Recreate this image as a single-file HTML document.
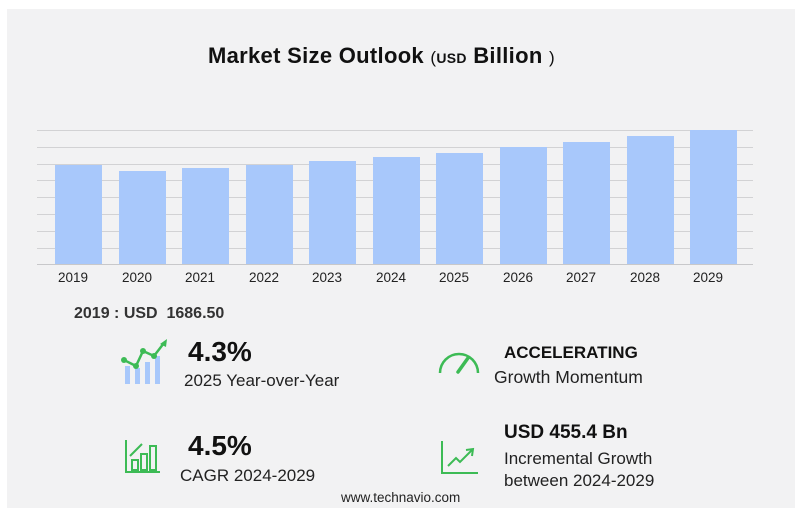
<!DOCTYPE html>
<html><head><style>
body{margin:0;width:804px;height:520px;background:#fff;font-family:"Liberation Sans",sans-serif;position:relative;overflow:hidden}
.p{position:absolute;left:7px;top:9px;width:788px;height:499px;background:#f2f2f3}
.t{position:absolute;white-space:nowrap;color:#111}
</style></head><body>
<div class="p"></div>
<div class="t" style="left:208px;top:43px;font-size:22px;font-weight:bold;letter-spacing:0.3px">Market Size Outlook <span style="font-weight:normal;font-size:17px">(</span><span style="font-size:14px">USD</span> Billion <span style="font-weight:normal;font-size:17px">)</span></div>
<svg style="position:absolute;left:0;top:0" width="804" height="300">
<g stroke="#d2d2d4" stroke-width="1">
<line x1="37" x2="753" y1="130.5" y2="130.5"/><line x1="37" x2="753" y1="147.5" y2="147.5"/><line x1="37" x2="753" y1="164.5" y2="164.5"/><line x1="37" x2="753" y1="180.5" y2="180.5"/><line x1="37" x2="753" y1="197.5" y2="197.5"/><line x1="37" x2="753" y1="214.5" y2="214.5"/><line x1="37" x2="753" y1="231.5" y2="231.5"/><line x1="37" x2="753" y1="248.5" y2="248.5"/>
</g>
<g fill="#a8c8fb">
<rect x="55" y="165" width="47" height="99"/><rect x="119" y="171" width="47" height="93"/><rect x="182" y="168" width="47" height="96"/><rect x="246" y="165" width="47" height="99"/><rect x="309" y="161" width="47" height="103"/><rect x="373" y="157" width="47" height="107"/><rect x="436" y="153" width="47" height="111"/><rect x="500" y="147" width="47" height="117"/><rect x="563" y="142" width="47" height="122"/><rect x="627" y="136" width="47" height="128"/><rect x="690" y="130" width="47" height="134"/>
</g>
<line x1="37" x2="753" y1="264.5" y2="264.5" stroke="#c8c8ca"/>
<g font-size="13.5" fill="#222" text-anchor="middle" font-family="Liberation Sans">
<text x="73" y="282">2019</text><text x="137" y="282">2020</text><text x="200" y="282">2021</text><text x="264" y="282">2022</text><text x="327" y="282">2023</text><text x="391" y="282">2024</text><text x="454" y="282">2025</text><text x="518" y="282">2026</text><text x="581" y="282">2027</text><text x="645" y="282">2028</text><text x="708" y="282">2029</text>
</g>
</svg>
<div class="t" style="left:74px;top:305px;font-size:16px;font-weight:bold;color:#333">2019 : USD&nbsp; 1686.50</div>
<svg style="position:absolute;left:120px;top:338px" width="52" height="50">
<g fill="#a8c8fb"><rect x="5" y="28" width="5" height="18"/><rect x="15" y="30" width="5" height="16"/><rect x="25" y="24" width="5" height="22"/><rect x="35" y="18" width="5" height="28"/></g>
<polyline points="4,22 16,28 23,13 34,18 44,5" fill="none" stroke="#3dbb55" stroke-width="2.5"/>
<g fill="#3dbb55"><circle cx="4" cy="22" r="3"/><circle cx="16" cy="28" r="3"/><circle cx="23" cy="13" r="3"/><circle cx="34" cy="18" r="3"/><path d="M40,6 L47,1 L46,9Z"/></g>
</svg>
<div class="t" style="left:188px;top:336px;font-size:28px;font-weight:bold">4.3%</div>
<div class="t" style="left:184px;top:371px;font-size:17px;color:#222">2025 Year-over-Year</div>
<svg style="position:absolute;left:436px;top:346px" width="46" height="30">
<path d="M4,27 A19,19 0 0 1 42,27" fill="none" stroke="#3dbb55" stroke-width="2.5"/>
<line x1="22" y1="26" x2="32" y2="12" stroke="#3dbb55" stroke-width="3.5" stroke-linecap="round"/>
</svg>
<div class="t" style="left:504px;top:343px;font-size:17px;font-weight:bold">ACCELERATING</div>
<div class="t" style="left:494px;top:367px;font-size:17.5px;color:#222">Growth Momentum</div>
<svg style="position:absolute;left:124px;top:438px" width="38" height="36">
<g fill="none" stroke="#3dbb55" stroke-width="2"><polyline points="2,2 2,34 36,34"/><rect x="8" y="22" width="6" height="10"/><rect x="17" y="16" width="6" height="16"/><rect x="26" y="8" width="6" height="24"/><polyline points="6,18 18,6"/></g>
</svg>
<div class="t" style="left:188px;top:430px;font-size:28px;font-weight:bold">4.5%</div>
<div class="t" style="left:180px;top:466px;font-size:17px;color:#222">CAGR 2024-2029</div>
<svg style="position:absolute;left:440px;top:440px" width="40" height="36">
<g fill="none" stroke="#3dbb55" stroke-width="2"><polyline points="2,1 2,33 38,33"/><polyline points="8,26 16,18 20,22 32,10"/><polyline points="26,10 33,9 32,16"/></g>
</svg>
<div class="t" style="left:504px;top:422px;font-size:19px;font-weight:bold">USD 455.4 Bn</div>
<div class="t" style="left:504px;top:449px;font-size:17px;color:#222">Incremental Growth</div>
<div class="t" style="left:504px;top:471px;font-size:17px;color:#222">between 2024-2029</div>
<div class="t" style="left:341px;top:490px;font-size:13.5px;color:#222">www.technavio.com</div>
</body></html>
